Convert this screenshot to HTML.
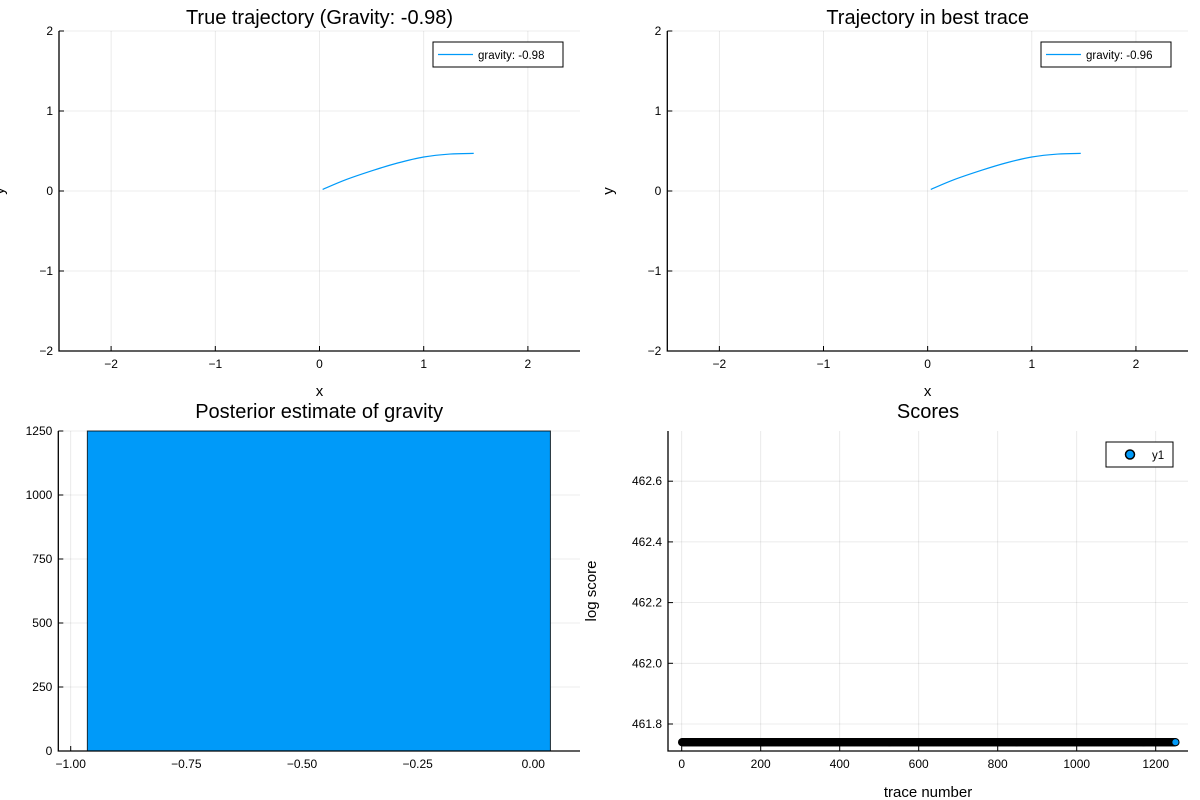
<!DOCTYPE html>
<html><head><meta charset="utf-8"><style>
body{margin:0;background:#fff;}
svg{display:block;font-family:"Liberation Sans","DejaVu Sans",sans-serif;}
</style></head><body>
<svg id="c" width="1200" height="800" xmlns="http://www.w3.org/2000/svg"></svg>
<script>
// ---- data ----
const trueTrajX = [0.03, 0.25, 0.52, 0.75, 1.0, 1.25, 1.48];
const trueTrajY = [0.02, 0.14, 0.26, 0.35, 0.425, 0.462, 0.47];
const bestTrajX = [0.03, 0.25, 0.52, 0.75, 1.0, 1.25, 1.47];
const bestTrajY = [0.02, 0.14, 0.26, 0.35, 0.425, 0.462, 0.47];
const trajTicks = [-2, -1, 0, 1, 2];
const histEdges = [-0.964, 0.037];
const histCounts = [1250];
const histXTicks = [-1.0, -0.75, -0.5, -0.25, 0.0];
const histXLabels = ["−1.00", "−0.75", "−0.50", "−0.25", "0.00"];
const histYTicks = [0, 250, 500, 750, 1000, 1250];
const scoreValue = [461.74];
const scoreCount = [1250];
const scoreXTicks = [0, 200, 400, 600, 800, 1000, 1200];
const scoreYTicks = [461.8, 462.0, 462.2, 462.4, 462.6];

const NS = "http://www.w3.org/2000/svg";
const svg = document.getElementById("c");
function mk(tag, attrs, parent) {
  const e = document.createElementNS(NS, tag);
  for (const k in attrs) e.setAttribute(k, attrs[k]);
  (parent || svg).appendChild(e);
  return e;
}
function txt(s, x, y, size, anchor, parent, rot) {
  const t = mk("text", {x: x, y: y, "font-size": size, "text-anchor": anchor || "middle", fill: "#000"}, parent);
  if (rot) t.setAttribute("transform", "rotate(-90 " + x + " " + y + ")");
  t.textContent = s;
  return t;
}
function lin(d0, d1, p0, p1) { return v => p0 + (v - d0) * (p1 - p0) / (d1 - d0); }
function minus(v) { return String(v).replace("-", "−"); }

function frame(g, L, R, T, B, xs, ys, xt, xl, yt, yl) {
  xt.forEach((v, i) => {
    const x = xs(v);
    const gl = mk("line", {x1: x, x2: x, y1: T, y2: B, stroke: "#000", "stroke-opacity": 0.1, "stroke-width": 0.8}, g);
    
    
    mk("line", {x1: x, x2: x, y1: B, y2: B - 5, stroke: "#000", "stroke-width": 1}, g);
    const t = txt(xl[i], x, B + 17, 12, "middle", g);
    
    
  });
  yt.forEach((v, i) => {
    const y = ys(v);
    const gl = mk("line", {x1: L, x2: R, y1: y, y2: y, stroke: "#000", "stroke-opacity": 0.1, "stroke-width": 0.8}, g);
    
    
    mk("line", {x1: L, x2: L + 5, y1: y, y2: y, stroke: "#000", "stroke-width": 1}, g);
    const t = txt(yl[i], L - 6, y + 4, 12, "end", g);
    
    
  });
}
function axesLines(g, L, R, T, B) {
  const a = mk("path", {d: `M${L},${T} L${L},${B} L${R},${B}`, fill: "none", stroke: "#000", "stroke-width": 1.3}, g);
  
  
}
function smoothPath(P) {
  let d = "M" + P[0][0].toFixed(2) + "," + P[0][1].toFixed(2);
  for (let i = 0; i < P.length - 1; i++) {
    const p0 = P[Math.max(0, i - 1)], p1 = P[i], p2 = P[i + 1], p3 = P[Math.min(P.length - 1, i + 2)];
    const c1 = [p1[0] + (p2[0] - p0[0]) / 6, p1[1] + (p2[1] - p0[1]) / 6];
    const c2 = [p2[0] - (p3[0] - p1[0]) / 6, p2[1] - (p3[1] - p1[1]) / 6];
    d += ` C${c1[0].toFixed(2)},${c1[1].toFixed(2)} ${c2[0].toFixed(2)},${c2[1].toFixed(2)} ${p2[0].toFixed(2)},${p2[1].toFixed(2)}`;
  }
  return d;
}

// ---- trajectory panels ----
function trajPanel(name, L, R, T, B, title, xsD, ysD, label, ylabX) {
  const g = mk("g", {});
  
  
  const xs = lin(-2.5, 2.5, L, R), ys = lin(-2, 2, B, T);
  frame(g, L, R, T, B, xs, ys, trajTicks, trajTicks.map(minus), trajTicks, trajTicks.map(minus));
  axesLines(g, L, R, T, B);
  const pts = xsD.map((v, i) => [xs(v), ys(ysD[i])]);
  const p = mk("path", {d: smoothPath(pts), fill: "none", stroke: "#009af9", "stroke-width": 1.2}, g);
  
  
  const t = txt(title, (L + R) / 2, 24, 20, "middle", g);
  
  
  const xl = txt("x", (L + R) / 2, 396, 15, "middle", g);
  
  
  const yl = txt("y", ylabX, (T + B) / 2, 15, "middle", g, true);
  
  
  const lg = mk("g", {}, g);
  
  
  mk("rect", {x: R - 147, y: 42, width: 130, height: 25, fill: "#fff", stroke: "#000", "stroke-width": 1}, lg);
  mk("line", {x1: R - 142, x2: R - 107, y1: 54.5, y2: 54.5, stroke: "#009af9", "stroke-width": 1.2}, lg);
  txt(label, R - 102, 59, 11.5, "start", lg);
}
trajPanel("true-trajectory-plot", 59, 580, 31, 351, "True trajectory (Gravity: -0.98)", trueTrajX, trueTrajY, "gravity: -0.98", 4);
trajPanel("best-trace-plot", 667.3, 1188, 31, 351, "Trajectory in best trace", bestTrajX, bestTrajY, "gravity: -0.96", 613);

// ---- histogram ----
(function () {
  const L = 58.3, R = 580, T = 431, B = 751;
  const g = mk("g", {});
  
  
  const xs = lin(-1.0, 0.0, 70.7, 533.3), ys = lin(0, 1250, B, T);
  frame(g, L, R, T, B, xs, ys, histXTicks, histXLabels, histYTicks, histYTicks.map(String));
  histCounts.forEach((c, i) => {
    const x0 = xs(histEdges[i]), x1 = xs(histEdges[i + 1]);
    const r = mk("rect", {x: x0, y: ys(c), width: x1 - x0, height: ys(0) - ys(c), fill: "#009af9", stroke: "#000", "stroke-opacity": 0.8, "stroke-width": 1}, g);
    
    
  });
  axesLines(g, L, R, T, B);
  const t = txt("Posterior estimate of gravity", (L + R) / 2, 418, 20, "middle", g);
  
  
})();

// ---- scores ----
(function () {
  const L = 668, R = 1188, T = 431, B = 751;
  const g = mk("g", {});
  
  
  const xs = lin(0, 200, 681.7, 760.7), ys = lin(461.8, 462.0, 724, 663.3);
  frame(g, L, R, T, B, xs, ys, scoreXTicks, scoreXTicks.map(String), scoreYTicks, scoreYTicks.map(v => v.toFixed(1)));
  const pts = mk("g", {}, g);
  
  
  for (let i = 1; i <= scoreCount[0]; i++) {
    mk("circle", {cx: xs(i), cy: ys(scoreValue[0]), r: 3.6, fill: "#009af9", stroke: "#000", "stroke-width": 1}, pts);
  }
  axesLines(g, L, R, T, B);
  const t = txt("Scores", (L + R) / 2, 418, 20, "middle", g);
  
  
  const xl = txt("trace number", (L + R) / 2, 797, 15, "middle", g);
  
  
  const yl = txt("log score", 596, (T + B) / 2, 15, "middle", g, true);
  
  
  const lg = mk("g", {}, g);
  
  
  mk("rect", {x: 1106, y: 442, width: 67, height: 25, fill: "#fff", stroke: "#000", "stroke-width": 1}, lg);
  mk("circle", {cx: 1130, cy: 454.5, r: 4.5, fill: "#009af9", stroke: "#000", "stroke-width": 1.5}, lg);
  txt("y1", 1152, 459, 11.5, "start", lg);
})();
</script>
</body></html>
